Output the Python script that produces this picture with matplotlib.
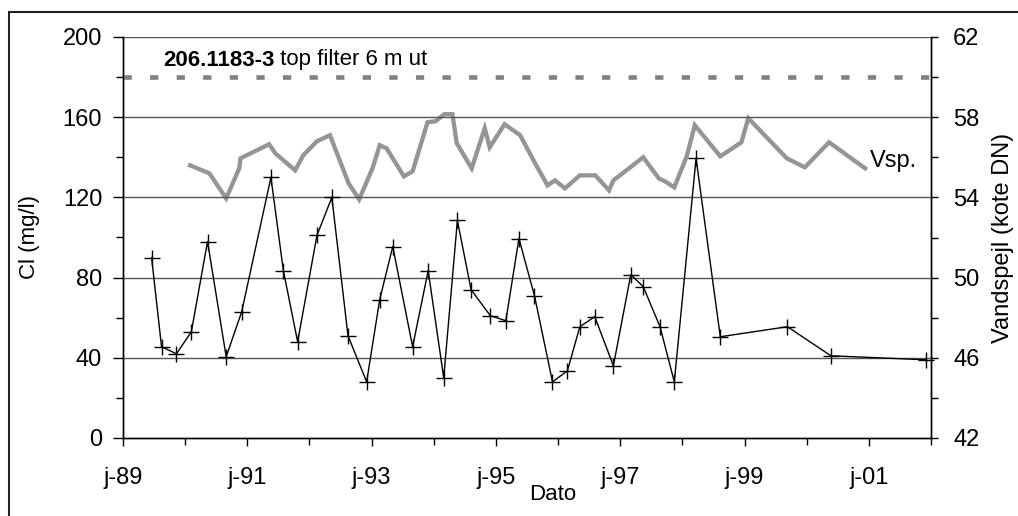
import matplotlib
matplotlib.use("Agg")
from matplotlib import pyplot as plt
from matplotlib.patches import Rectangle
from matplotlib.ticker import MultipleLocator, FixedLocator
import numpy as np

plt.rcParams['font.family'] = ['Liberation Sans', 'DejaVu Sans']

# chloride samples (decimal year, mg/l)
cl_year = [1989.46, 1989.62, 1989.86, 1990.10, 1990.36, 1990.66, 1990.91,
           1991.38, 1991.58, 1991.81, 1992.12, 1992.36, 1992.62, 1992.92,
           1993.13, 1993.34, 1993.66, 1993.91, 1994.16, 1994.38, 1994.60,
           1994.91, 1995.16, 1995.37, 1995.62, 1995.91, 1996.15, 1996.35,
           1996.59, 1996.89, 1997.17, 1997.37, 1997.64, 1997.87, 1998.22,
           1998.61, 1999.69, 2000.39, 2001.92]
cl_val = [90, 45.5, 42, 53, 98, 40.5, 63,
          130, 83.5, 48, 101, 120, 51, 28,
          69, 95.5, 45.5, 83.5, 30, 108.5, 74,
          61, 58.5, 99.5, 71, 28, 33.5, 55.5,
          60.5, 36, 81.5, 75.5, 55.5, 28, 139.5,
          50.5, 55.5, 41, 39]

# water level (decimal year, kote DN)
vsp_year = [1990.08, 1990.39, 1990.66, 1990.87, 1990.89, 1991.35, 1991.45,
            1991.77, 1991.90, 1992.12, 1992.33, 1992.63, 1992.80, 1993.02,
            1993.13, 1993.24, 1993.52, 1993.66, 1993.90, 1994.03, 1994.17,
            1994.30, 1994.37, 1994.61, 1994.82, 1994.90, 1995.14, 1995.39,
            1995.63, 1995.83, 1995.95, 1996.11, 1996.35, 1996.60, 1996.82,
            1996.89, 1997.37, 1997.62, 1997.72, 1997.87, 1998.07, 1998.20,
            1998.61, 1998.95, 1999.06, 1999.68, 1999.97, 2000.36, 2000.94]
vsp_val = [55.6, 55.2, 53.95, 55.45, 55.95, 56.65, 56.2,
           55.35, 56.1, 56.8, 57.1, 54.7, 53.9, 55.5,
           56.6, 56.45, 55.05, 55.3, 57.75, 57.8, 58.15,
           58.15, 56.7, 55.45, 57.45, 56.5, 57.65, 57.1,
           55.7, 54.6, 54.85, 54.45, 55.1, 55.1, 54.35,
           54.85, 56.0, 54.95, 54.8, 54.5, 56.05, 57.6,
           56.05, 56.75, 57.95, 55.95, 55.5, 56.75, 55.45]

filter_top = 180   # top of filter, drawn on the Cl axis
year_labels = ['j-89', 'j-91', 'j-93', 'j-95', 'j-97', 'j-99', 'j-01']
vsp_ticks = [42, 46, 50, 54, 58, 62]

W, H = 1018, 516
fig = plt.figure(figsize=(W / 100, H / 100), dpi=100)
fig.patches.append(Rectangle((9 / W, -0.5), 2.0, 1.5 - 12 / H,
                             transform=fig.transFigure, fill=False,
                             edgecolor='#222222', linewidth=1.5))

ax = fig.add_axes([123 / W, (H - 438) / H, (931 - 123) / W, (438 - 37) / H])
ax2 = ax.twinx()
ax.set_zorder(ax2.get_zorder() + 1)
ax.patch.set_visible(False)

# left axis: chloride
ax.set_xlim(1989, 2002)
ax.set_ylim(0, 200)
ax.yaxis.set_major_locator(MultipleLocator(40))
ax.yaxis.set_minor_locator(MultipleLocator(20))
for y in range(40, 201, 40):
    ax.axhline(y, color='#555555', lw=1.0, zorder=0)
ax.axhline(filter_top, color='#808080', lw=3.3, dashes=(1.8, 4.0),
           dash_capstyle='butt', zorder=1, clip_on=False)
ax.plot(cl_year, cl_val, color='black', lw=1.0, marker='+', ms=11, mew=1.0,
        zorder=3, clip_on=False)

ax.xaxis.set_major_locator(FixedLocator(np.arange(1989, 2002, 2)))
ax.xaxis.set_minor_locator(FixedLocator(np.arange(1990, 2003, 2)))
ax.set_xticklabels(year_labels)

for s in ['top']:
    ax.spines[s].set_visible(False)
    ax2.spines[s].set_visible(False)
for s in ['left', 'bottom', 'right']:
    ax.spines[s].set_linewidth(1.0)
    ax2.spines[s].set_linewidth(1.0)

ax.tick_params(axis='y', which='major', direction='out', length=7, width=1,
               labelsize=17, pad=8)
ax.tick_params(axis='y', which='minor', direction='out', length=5, width=1)
ax.tick_params(axis='x', which='major', direction='out', length=6, width=1,
               labelsize=17, pad=15)
ax.tick_params(axis='x', which='minor', direction='out', length=5, width=1)

# right axis: water level
ax2.set_ylim(42, 62)
ax2.yaxis.set_major_locator(FixedLocator(vsp_ticks))
ax2.yaxis.set_minor_locator(FixedLocator([44, 48, 52, 56, 60]))
ax2.tick_params(axis='y', which='major', direction='out', length=5, width=1,
                labelsize=17, pad=11)
ax2.tick_params(axis='y', which='minor', direction='out', length=5, width=1)
ax2.plot(vsp_year, vsp_val, color='#959595', lw=3.1, solid_joinstyle='miter',
         zorder=2)
ax2.text(vsp_year[-1] + 0.08, vsp_val[-1] + 0.35, 'Vsp.', fontsize=17,
         va='center', ha='left')

t1 = ax.text(163 / W, (H - 60) / H, '206.1183-3', transform=fig.transFigure,
             fontsize=16, fontweight='bold', va='center', ha='left')
ax.annotate(' top filter 6 m ut', xy=(1, 0.5), xycoords=t1,
            fontsize=16, va='center', ha='left')

fig.text(30 / W, (H - 237) / H, 'Cl (mg/l)', rotation=90, fontsize=16,
         ha='center', va='center')
fig.text(1003 / W, (H - 238) / H, 'Vandspejl (kote DN)', rotation=90,
         fontsize=17, ha='center', va='center')
fig.text(553 / W, (H - 495) / H, 'Dato', fontsize=16, ha='center',
         va='center')

fig.savefig('out.png', dpi=100)
